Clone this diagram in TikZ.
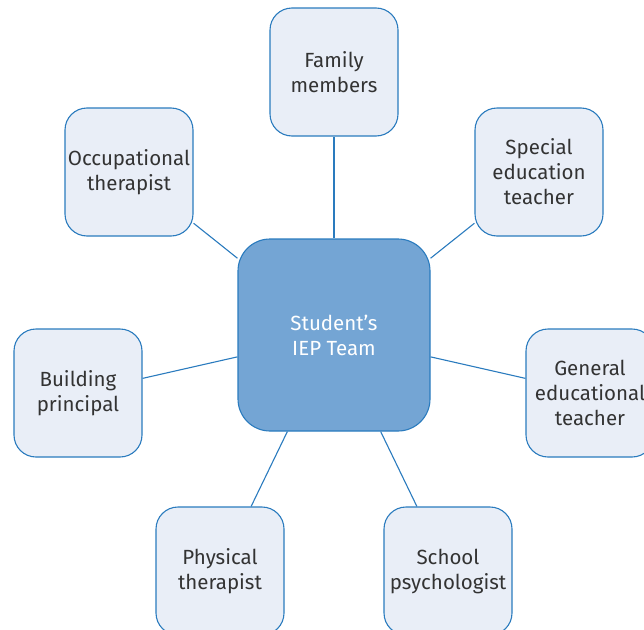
\documentclass[tikz,border=0pt]{standalone}
\usepackage{fontspec}
\setmainfont{Fira Sans}
\definecolor{edge}{HTML}{2A7BBE}
\definecolor{boxfill}{HTML}{E9EEF7}
\definecolor{hubfill}{HTML}{74A5D4}
\definecolor{txt}{HTML}{333333}
\tikzset{
  member/.style={draw=edge, fill=boxfill, line width=1.1pt, rounded corners=22pt,
    minimum width=128pt, minimum height=128pt, inner sep=0pt, align=center,
    text=txt, font=\fontsize{20.5}{25}\selectfont},
  hub/.style={draw=edge, fill=hubfill, line width=1.1pt, rounded corners=32pt,
    minimum width=192pt, minimum height=192pt, inner sep=0pt, align=center,
    text=white, font=\fontsize{20.5}{25}\selectfont},
  link/.style={draw=edge, line width=1.1pt}
}
\begin{document}
\begin{tikzpicture}[x=1pt,y=-1pt]
\useasboundingbox (0,0) rectangle (644,629);
\clip (0,0) rectangle (644,629);
\node[hub] (c) at (334,335) {Student’s\\IEP Team};
\node[member] (fam) at (334,72) {Family\\members};
\node[member] (spec) at (539,172) {Special\\education\\teacher};
\node[member] (occ) at (129,172) {Occupational\\therapist};
\node[member] (bld) at (78,393) {Building\\principal};
\node[member] (gen) at (590,393) {General\\educational\\teacher};
\node[member] (phy) at (220,571) {Physical\\therapist};
\node[member] (psy) at (448,571) {School\\psychologist};
\foreach \n in {fam,spec,occ,bld,gen,phy,psy}{\draw[link] (c) -- (\n);}
\end{tikzpicture}
\end{document}
